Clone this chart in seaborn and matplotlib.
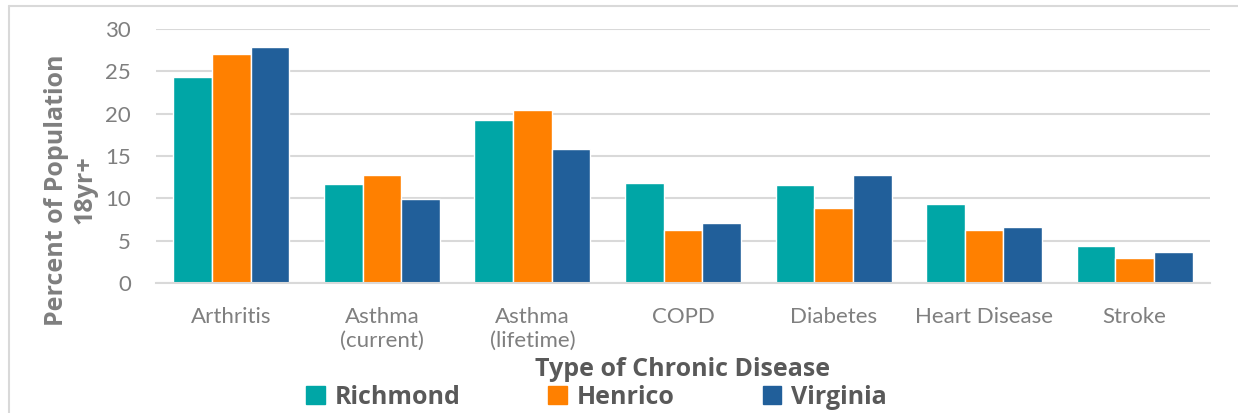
import pandas as pd
import matplotlib
matplotlib.use('Agg')
import matplotlib.pyplot as plt
import seaborn as sns
from matplotlib.lines import Line2D

diseases = ['Arthritis', 'Asthma\n(current)', 'Asthma\n(lifetime)', 'COPD',
            'Diabetes', 'Heart Disease', 'Stroke']
regions = ['Richmond', 'Henrico', 'Virginia']
richmond = [24.3, 11.7, 19.3, 11.8, 11.6, 9.3, 4.4]
henrico = [27.0, 12.7, 20.4, 6.3, 8.8, 6.3, 3.0]
virginia = [27.9, 9.9, 15.8, 7.1, 12.8, 6.6, 3.7]
colors = ['#00A6A6', '#FF8000', '#215F9A']

df = pd.DataFrame({
    'disease': diseases * 3,
    'region': [r for r in regions for _ in diseases],
    'pct': richmond + henrico + virginia,
})

sns.set_theme(style='white')
plt.rcParams['font.family'] = ['Lato', 'DejaVu Sans']
bold_font = ['Open Sans', 'DejaVu Sans']

fig = plt.figure(figsize=(12.38, 4.13), dpi=100)
ax = fig.add_axes([156 / 1238, 1 - 283 / 413, (1210 - 156) / 1238, (283 - 29) / 413])

sns.barplot(data=df, x='disease', y='pct', hue='region', palette=colors,
            saturation=1, width=0.77, edgecolor='white', linewidth=1,
            ax=ax, legend=False)

ax.set_ylim(0, 30)
ax.set_yticks(range(0, 31, 5))
ax.set_xlim(-0.5, 6.5)
ax.yaxis.grid(True, color='#D9D9D9', linewidth=1.5)
ax.set_axisbelow(True)
for side in ['top', 'right', 'left']:
    ax.spines[side].set_visible(False)
ax.spines['bottom'].set_color('#D9D9D9')
ax.spines['bottom'].set_linewidth(1.5)
ax.tick_params(axis='both', length=0, labelsize=16, colors='#7F7F7F')
ax.tick_params(axis='x', pad=17)
ax.tick_params(axis='y', pad=18)
for lbl in ax.get_xticklabels():
    lbl.set_linespacing(1.25)

ax.set_xlabel('Type of Chronic Disease', fontsize=18, fontweight='bold',
              color='#595959', family=bold_font)
ax.xaxis.set_label_coords(0.5, (283 - 357) / 254)
ax.set_ylabel('Percent of Population\n18yr+', fontsize=18, fontweight='bold',
              color='#7F7F7F', family=bold_font, linespacing=1.15)
ax.yaxis.set_label_coords((97 - 156) / 1054, (283 - 190) / 254)

handles = [plt.Rectangle((0, 0), 1, 1, color=c) for c in colors]
leg = fig.legend(handles, regions, loc='center', bbox_to_anchor=(0.482, 1 - 397 / 413),
                 ncol=3, frameon=False, handlelength=0.75, handleheight=0.75,
                 handletextpad=0.4, columnspacing=3.5,
                 prop={'family': bold_font, 'weight': 'bold', 'size': 18})
for t in leg.get_texts():
    t.set_color('#595959')

# chart frame
fig.add_artist(Line2D([9 / 1238, 9 / 1238], [0, 1 - 6 / 413], color='#D9D9D9', linewidth=1.5))
fig.add_artist(Line2D([9 / 1238, 1], [1 - 6 / 413, 1 - 6 / 413], color='#D9D9D9', linewidth=1.5))

fig.savefig('out.png', dpi=100, facecolor='white')
